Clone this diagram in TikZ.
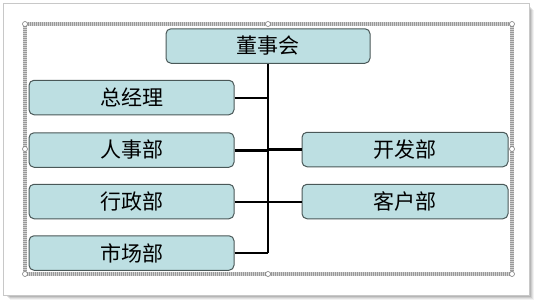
\documentclass[tikz,border=0pt]{standalone}
\usepackage{fontspec}
\newfontfamily\cjk{Noto Sans CJK SC}
\definecolor{boxfill}{HTML}{BDDFE2}
\definecolor{boxline}{HTML}{4A5858}
\definecolor{pageline}{HTML}{C8C8C8}
\begin{document}
\begin{tikzpicture}[x=1pt,y=-1pt,
  orgbox/.style={draw=boxline,line width=1pt,fill=boxfill,rounded corners=5pt,
    minimum width=205pt,minimum height=34.5pt,inner sep=0pt,
    font=\cjk\fontsize{21}{21}\selectfont},
  link/.style={line width=2pt,black},
  thicklink/.style={line width=3pt,black},
  handle/.style={circle,draw=gray,fill=white,line width=0.6pt,minimum size=5pt,inner sep=0pt}]
\useasboundingbox (0,0) rectangle (536,301);
% page with shadow
\foreach \o/\a in {7/0.05,6/0.07,5/0.09,4/0.11,3/0.13}{
  \fill[black,opacity=\a] (3+\o,3+\o) rectangle (529+\o-2,295+\o-2);
}
\fill[white,draw=pageline,line width=0.8pt] (3,3) rectangle (529,295);
% selection frame
\draw[line width=4.5pt,gray!35] (25,24) rectangle (512,274);
\draw[line width=4.5pt,gray!80,dash pattern=on 1pt off 1pt] (25,24) rectangle (512,274);
% boxes
\node[orgbox,minimum width=204pt] (dsh) at (268,46) {董事会};
\node[orgbox] (zjl) at (131.5,97.5) {总经理};
\node[orgbox] (rsb) at (131.5,150) {人事部};
\node[orgbox] (xzb) at (131.5,201.5) {行政部};
\node[orgbox] (scb) at (131.5,253) {市场部};
\node[orgbox,minimum width=206pt] (kfb) at (405,149.5) {开发部};
\node[orgbox,minimum width=206pt] (khb) at (405,201.5) {客户部};
% connectors
\coordinate (trunkend) at (dsh.south |- scb.east);
\draw[link] (dsh.south) -- (trunkend);
\draw[link] (zjl.east) -- (zjl.east -| trunkend);
\draw[thicklink] (rsb.east) -- (rsb.east -| trunkend);
\draw[thicklink] (kfb.west) -- (kfb.west -| trunkend);
\draw[link] (xzb.east) -- (xzb.east -| trunkend);
\draw[link] (khb.west) -- (khb.west -| trunkend);
\draw[link] (scb.east) -- (trunkend);
% handles
\foreach \n/\p in {h1/{(25,24)},h2/{(268,24)},h3/{(512,24)},h4/{(25,149)},h5/{(512,149)},h6/{(25,274)},h7/{(268,274)},h8/{(512,274)}}{
  \node[handle] (\n) at \p {};
}
\end{tikzpicture}
\end{document}
